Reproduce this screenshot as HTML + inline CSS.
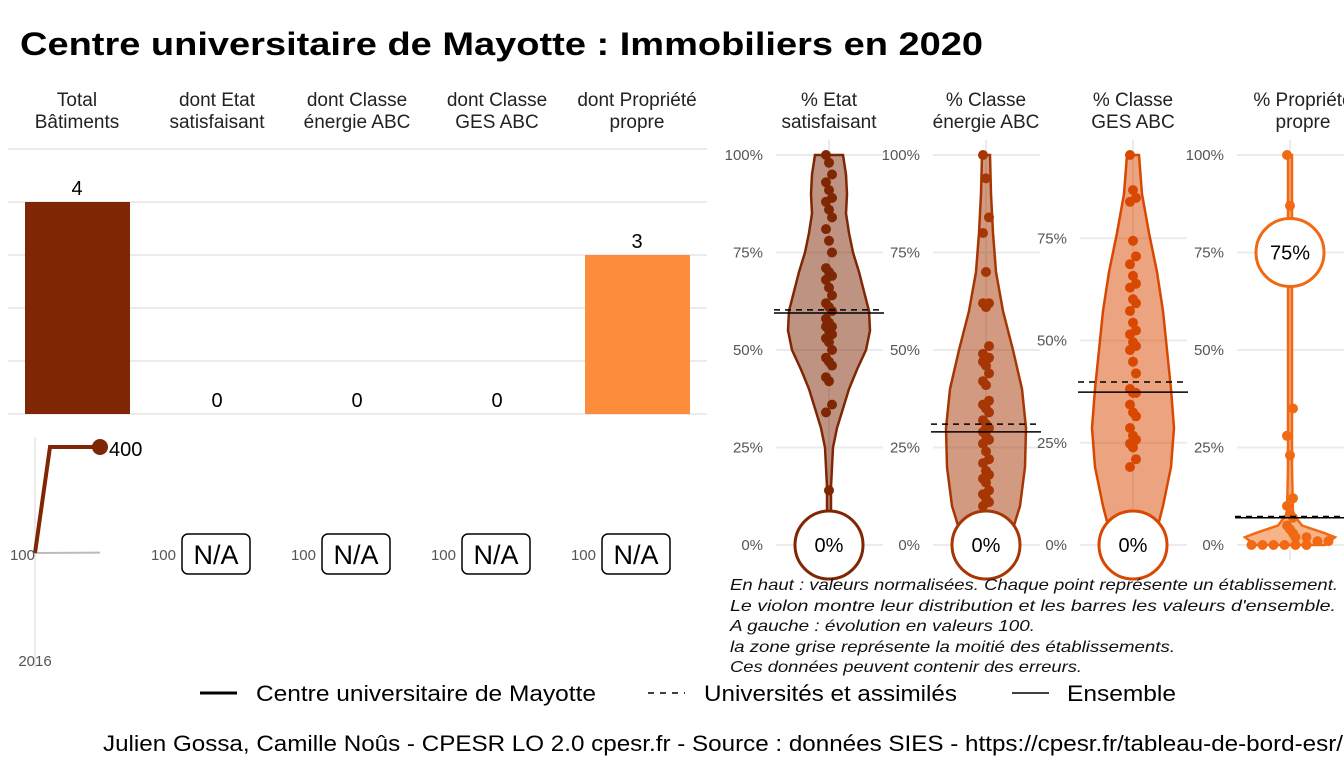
<!DOCTYPE html>
<html><head><meta charset="utf-8"><style>
body{margin:0;background:#fff;width:1344px;height:756px;overflow:hidden;font-family:"Liberation Sans",sans-serif}
svg text{font-family:"Liberation Sans",sans-serif}
</style></head><body>
<svg id="c" width="1344" height="756" xmlns="http://www.w3.org/2000/svg">
<text x="20" y="55" font-size="32" font-weight="bold" textLength="963" lengthAdjust="spacingAndGlyphs">Centre universitaire de Mayotte  :  Immobiliers en 2020</text>
<g id="g"></g>
<g font-size="16" font-style="italic" fill="#111">
<text x="730" y="590" textLength="608" lengthAdjust="spacingAndGlyphs">En haut : valeurs normalisées. Chaque point représente un établissement.</text>
<text x="730" y="611" textLength="606" lengthAdjust="spacingAndGlyphs">Le violon montre leur distribution et les barres les valeurs d'ensemble.</text>
<text x="730" y="631" textLength="305" lengthAdjust="spacingAndGlyphs">A gauche : évolution en valeurs 100.</text>
<text x="730" y="652" textLength="445" lengthAdjust="spacingAndGlyphs">la zone grise représente la moitié des établissements.</text>
<text x="730" y="672" textLength="352" lengthAdjust="spacingAndGlyphs">Ces données peuvent contenir des erreurs.</text>
</g>
<g font-size="22">
<line x1="200" y1="693" x2="237" y2="693" stroke="#000" stroke-width="3"/><text x="256" y="701" textLength="340" lengthAdjust="spacingAndGlyphs">Centre universitaire de Mayotte</text>
<line x1="648" y1="693" x2="685" y2="693" stroke="#000" stroke-width="1.5" stroke-dasharray="6,6"/><text x="704" y="701" textLength="253" lengthAdjust="spacingAndGlyphs">Universités et assimilés</text>
<line x1="1012" y1="693" x2="1049" y2="693" stroke="#000" stroke-width="1.5"/><text x="1067" y="701" textLength="109" lengthAdjust="spacingAndGlyphs">Ensemble</text>
</g>
<text x="103" y="751" font-size="22" textLength="1240" lengthAdjust="spacingAndGlyphs">Julien Gossa, Camille Noûs - CPESR LO 2.0 cpesr.fr - Source : données SIES - https://cpesr.fr/tableau-de-bord-esr/</text>
</svg>
<script>
const barCats=[["Total","Bâtiments"],["dont Etat","satisfaisant"],["dont Classe","énergie ABC"],["dont Classe","GES ABC"],["dont Propriété","propre"]];
const barValues=[4,0,0,0,3];
const barColors=["#7f2704",null,null,null,"#fd8d3c"];
const violinCats=[["% Etat","satisfaisant"],["% Classe","énergie ABC"],["% Classe","GES ABC"],["% Propriété","propre"]];
const violinValues=[0,0,0,75];
const pts1=[100,98,95,93,91,89,88,86,84,81,78,75,71,70,69,68,66,64,62,61,60,58,57,56,56,55,54,53,52,50,48,47,46,43,42,36,34,14];
const pts2=[100,94,84,80,70,62,62,61,51,49,48,48,47,46,44,42,41,37,36,35,34,32,31,30,29,28,27,26,24,22,21,19,18,17,16,14,13,12,11,10];
const pts3=[100,91,89,88,78,74,72,69,67,66,63,62,60,57,55,54,52,51,50,47,44,40,39,39,36,34,33,30,28,27,26,25,22,20];
const pts4=[100,87,35,28,23,12,10,8,7,5,4,3,2,2,1,1,0,0,0,0,0,0];
const dens1=[[100,14],[95,17],[90,18],[85,17],[80,20],[75,24],[70,30],[65,35],[60,40],[55,41],[50,37],[45,28],[40,20],[35,14],[30,8],[25,4],[20,3],[15,2],[8,2]];
const dens2=[[100,4],[90,5],[80,7],[70,10],[60,17],[50,27],[40,36],[30,40],[20,39],[10,34],[5,28],[2,24]];
const dens3=[[100,6],[90,9],[80,16],[70,24],[60,30],[50,34],[40,38],[30,41],[20,38],[10,30],[5,25]];
const dens4=[[100,2],[80,2],[20,2],[8,3],[5,12],[3,35],[2,45],[1,40],[0,35]];
const meanSolid=[59.5,29,39.2,7];
const meanDashed=[60.3,31,41.8,7.3];
const evoYears=["2016"];
const evoSeries=[100,400,400];
const evoRef=[100,101];
const NS="http://www.w3.org/2000/svg",G=document.getElementById("g");
function el(t,a,p){const e=document.createElementNS(NS,t);for(const k in a)e.setAttribute(k,a[k]);(p||G).appendChild(e);return e;}
const bx=i=>77+140*i, by=v=>414-53*v;
for(let v=0;v<=5;v++){const l=el("line",{x1:8,x2:707,y1:by(v),y2:by(v),stroke:"#ebebeb","stroke-width":2});}
barCats.forEach((c,i)=>{
 c.forEach((s,j)=>{const t=el("text",{x:bx(i),y:106+22*j,"text-anchor":"middle","font-size":19,fill:"#222"});t.textContent=s;});
 if(barValues[i]>0&&barColors[i]){const r=el("rect",{x:bx(i)-52,y:by(barValues[i]),width:105,height:414-by(barValues[i]),fill:barColors[i]});}
 const t=el("text",{x:bx(i),y:by(barValues[i])-7,"text-anchor":"middle","font-size":20});t.textContent=barValues[i];
});
el("line",{x1:35,x2:35,y1:437,y2:668,stroke:"#ebebeb","stroke-width":2});
const ey=v=>553-(v-100)*106/300;
const exs=[35,50,100];
let d=evoSeries.map((v,i)=>(i?"L":"M")+exs[i]+","+ey(v)).join("");
const gr=el("path",{d:"M35,"+ey(evoRef[0])+"L100,"+ey(evoRef[1]),stroke:"#bbb","stroke-width":2,fill:"none"});
const ln=el("path",{d,stroke:"#7f2704","stroke-width":4,fill:"none"});
const ept=el("circle",{cx:100,cy:ey(evoSeries[2]),r:8,fill:"#7f2704"});
let t=el("text",{x:109,y:ey(evoSeries[2])+9,"font-size":20});t.textContent=evoSeries[2];
t=el("text",{x:35,y:666,"text-anchor":"middle","font-size":15,fill:"#555"});t.textContent=evoYears[0];
[0,1,2,3,4].forEach(i=>{
 t=el("text",{x:i?bx(i)-41:35,y:560,"text-anchor":"end","font-size":15,fill:"#555"});t.textContent="100";
 if(i){const r=el("rect",{x:bx(i)-35,y:534,width:68,height:40,rx:6,fill:"#fff",stroke:"#000","stroke-width":1.5});
 t=el("text",{x:bx(i)-1,y:564,"text-anchor":"middle","font-size":27});t.textContent="N/A";}
});
const vc=[829,986,1133,1290], vcol=["#7f2704","#a63603","#d94801","#f16913"];
const tickK=[3.9,3.9,4.09,3.9];
const pts=[pts1,pts2,pts3,pts4], dens=[dens1,dens2,dens3,dens4];
const ticks=[[0,25,50,75,100],[0,25,50,75,100],[0,25,50,75],[0,25,50,75,100]];
violinCats.forEach((c,i)=>{
 const cx=vc[i],vy=v=>545-v*3.9,ty=v=>545-v*tickK[i];
 c.forEach((s,j)=>{t=el("text",{x:cx+(i==3?13:0),y:106+22*j,"text-anchor":"middle","font-size":19,fill:"#222"});t.textContent=s;});
 el("line",{x1:cx,x2:cx,y1:140,y2:560,stroke:"#ebebeb","stroke-width":2});
 ticks[i].forEach(v=>{el("line",{x1:cx-53,x2:cx+54,y1:ty(v),y2:ty(v),stroke:"#ebebeb","stroke-width":2});
  t=el("text",{x:cx-66,y:ty(v)+5,"text-anchor":"end","font-size":15,fill:"#555"});t.textContent=v+"%";});
 const dd=dens[i];
 let p=dd.map((q,j)=>(j?"L":"M")+(cx-q[1])+","+vy(q[0])).join("")+dd.slice().reverse().map(q=>"L"+(cx+q[1])+","+vy(q[0])).join("")+"Z";
 const vp=el("path",{d:p,fill:vcol[i],"fill-opacity":0.5,stroke:vcol[i],"stroke-width":2.5});
 pts[i].forEach((v,j)=>{const off=i==3&&v<3?((j%8)-3.5)*11:((j%3)-1)*3;const ci=el("circle",{cx:cx+off,cy:vy(v),r:5,fill:vcol[i]});});
 el("line",{x1:cx-55,x2:cx+55,y1:vy(meanSolid[i]),y2:vy(meanSolid[i]),stroke:"#000","stroke-width":1.5});
 el("line",{x1:cx-55,x2:cx+55,y1:vy(meanDashed[i]),y2:vy(meanDashed[i]),stroke:"#000","stroke-width":1.5,"stroke-dasharray":"6,5"});
 const cy=i==3?vy(violinValues[i]):545;
 const cc=el("circle",{cx,cy,r:34,fill:"#fff",stroke:vcol[i],"stroke-width":3});
 t=el("text",{x:cx,y:cy+7,"text-anchor":"middle","font-size":20});t.textContent=violinValues[i]+"%";
});
</script>
</body></html>
